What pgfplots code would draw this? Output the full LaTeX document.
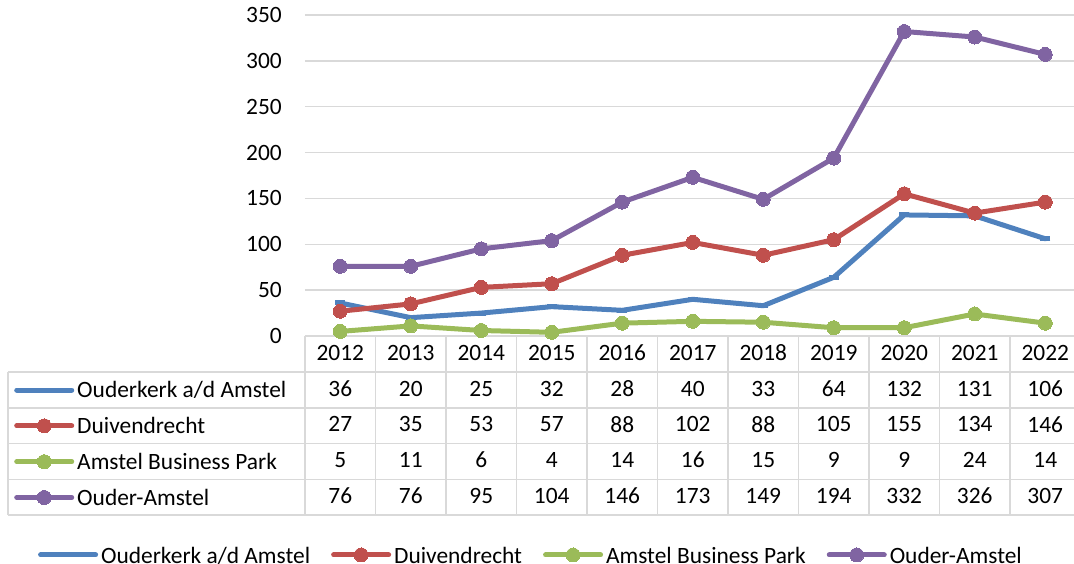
\documentclass[border=0pt]{standalone}
\usepackage{pgfplots}
\pgfplotsset{compat=1.18}
\usepackage{pgfplotstable}
\usepackage{fontspec}
\setmainfont{Carlito}

\definecolor{cBlue}{HTML}{4F81BD}
\definecolor{cRed}{HTML}{C0504D}
\definecolor{cGreen}{HTML}{9BBB59}
\definecolor{cPurple}{HTML}{8064A2}
\definecolor{cGrid}{HTML}{D9D9D9}

\pgfplotstableread{
x a b c d
0 36 27 5 76
1 20 35 11 76
2 25 53 6 95
3 32 57 4 104
4 28 88 14 146
5 40 102 16 173
6 33 88 15 149
7 64 105 9 194
8 132 155 9 332
9 131 134 24 326
10 106 146 14 307
}\data

\pgfplotsset{
  sBlue/.style={cBlue, line width=5pt, line join=round, line cap=round, mark=-, mark size=5pt, mark options={solid, line width=5pt, line cap=butt}},
  sRed/.style={cRed, line width=5pt, line join=round, line cap=round, mark=*, mark size=7pt, mark options={solid, fill=cRed, draw=cRed, line width=0pt}},
  sGreen/.style={cGreen, line width=5pt, line join=round, line cap=round, mark=*, mark size=7pt, mark options={solid, fill=cGreen, draw=cGreen, line width=0pt}},
  sPurple/.style={cPurple, line width=5pt, line join=round, line cap=round, mark=*, mark size=7pt, mark options={solid, fill=cPurple, draw=cPurple, line width=0pt}},
  myleg/.style={
    legend image code/.code={\draw[mark repeat=2, mark phase=2, ##1] plot coordinates {(0pt,0pt) (27.5pt,0pt) (55pt,0pt)};},
  },
}

\begin{document}
\begin{tikzpicture}[font=\fontsize{23.4pt}{28pt}\selectfont]
\useasboundingbox (0,0) rectangle (1074pt,564pt);
\begin{axis}[
  at={(305pt,228pt)}, anchor=south west,
  scale only axis, width=775.5pt, height=321pt,
  xmin=-0.5, xmax=10.5, ymin=0, ymax=350,
  ytick={0,50,...,350},
  /pgf/number format/assume math mode=true,
  ymajorgrids, grid style={cGrid, line width=1.5pt},
  xtick={0,...,10},
  xticklabels={2012,2013,2014,2015,2016,2017,2018,2019,2020,2021,2022},
  major tick length=0pt,
  axis line style={draw=none},
  yticklabel style={anchor=east, inner sep=0pt, xshift=-23pt},
  xticklabel style={anchor=center, inner sep=0pt, yshift=-17pt},
  clip=false,
  myleg,
  legend columns=4,
  legend style={at={(0.2901,-0.6822)}, anchor=center, draw=none, fill=none, inner sep=0pt,
    nodes={inner sep=0pt, text depth=0pt},
    /tikz/every odd column/.append style={column sep=3pt},
    /tikz/every even column/.append style={column sep=21pt}},
]
\addplot[sBlue] table[x=x, y=a] {\data};
\addlegendentry{Ouderkerk a/d Amstel}
\addplot[sRed] table[x=x, y=b] {\data};
\addlegendentry{Duivendrecht}
\addplot[sGreen] table[x=x, y=c] {\data};
\addlegendentry{Amstel Business Park}
\addplot[sPurple] table[x=x, y=d] {\data};
\addlegendentry{Ouder-Amstel}
\end{axis}

\begin{axis}[
  at={(305pt,228pt)}, anchor=south west,
  scale only axis, width=775.5pt, height=321pt,
  hide axis, xmin=0, xmax=1, ymin=0, ymax=1,
  myleg,
  legend columns=1,
  legend cell align=left,
  legend style={at={(-0.3752,-0.1121)}, anchor=north west, draw=none, fill=none, inner sep=0pt, row sep=0pt,
    nodes={inner sep=0pt, text height=25.5pt, text depth=10.3pt},
    /tikz/every odd column/.append style={column sep=3pt}},
]
\addlegendimage{sBlue}
\addlegendentry{Ouderkerk a/d Amstel}
\addlegendimage{sRed}
\addlegendentry{Duivendrecht}
\addlegendimage{sGreen}
\addlegendentry{Amstel Business Park}
\addlegendimage{sPurple}
\addlegendentry{Ouder-Amstel}
\end{axis}

% data table grid
\foreach \k in {0,...,11}
  \draw[cGrid, line width=1.5pt] ({305pt+70.5pt*\k},228pt) -- ({305pt+70.5pt*\k},49pt);
\foreach \yy in {192,156,120.5,84.5,49}
  \draw[cGrid, line width=1.5pt] (8pt,\yy pt) -- (1080.5pt,\yy pt);
\draw[cGrid, line width=1.5pt] (8pt,192pt) -- (8pt,49pt);

% data table values
\foreach \i in {0,...,10}{
  \foreach \col/\yy in {a/175.3, b/139.7, c/103.9, d/68.1}{
    \pgfplotstablegetelem{\i}{\col}\of\data
    \node[inner sep=0pt, anchor=center] at ({340.25pt+70.5pt*\i}, \yy pt) {\pgfplotsretval};
  }
}
\end{tikzpicture}
\end{document}
